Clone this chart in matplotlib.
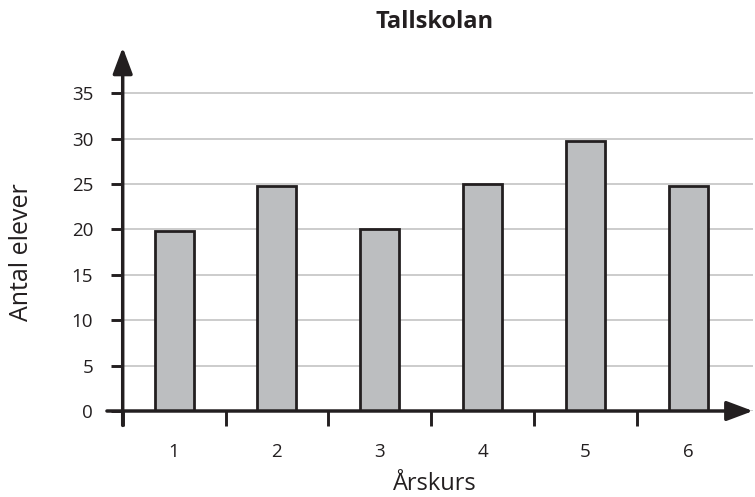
import matplotlib
matplotlib.use("Agg")
import matplotlib.pyplot as plt
import numpy as np

# Data
grades = ["1", "2", "3", "4", "5", "6"]
students = [19.8, 24.8, 20.0, 25.0, 29.7, 24.8]
y_ticks = [0, 5, 10, 15, 20, 25, 30, 35]
title = "Tallskolan"
x_label = "Årskurs"
y_label = "Antal elever"

DARK = "#231f20"
BAR = "#bcbec0"
GRID = "#bfbfbf"

plt.rcParams['font.family'] = ['Open Sans', 'DejaVu Sans']

fig = plt.figure(figsize=(7.55, 4.97), dpi=100)
left, bottom = 122.7 / 755, (497 - 411) / 497
width, height = (753 - 122.7) / 755, (411 - 51) / 497
ax = fig.add_axes([left, bottom, width, height])

x = np.arange(len(grades))
ax.bar(x, students, width=0.38, color=BAR, edgecolor=DARK, linewidth=2.0, zorder=3)

ax.set_xlim(-0.5, 5.63)
ax.set_ylim(0, 39.66)

for s in ax.spines.values():
    s.set_visible(False)

ax.set_yticks(y_ticks)
ax.set_yticklabels([str(v) for v in y_ticks])
ax.yaxis.grid(True, color=GRID, linewidth=1.1, zorder=0)
ax.set_axisbelow(True)

ax.set_xticks(np.arange(len(grades)) - 0.5)
ax.set_xticklabels([])
ax.set_xticks(x, minor=True)
ax.set_xticklabels(grades, minor=True)

ax.tick_params(axis='y', which='major', direction='out', length=8.6, width=2.1,
               color=DARK, labelcolor=DARK, labelsize=13.5, pad=12.7)
ax.tick_params(axis='x', which='major', direction='out', length=10.8, width=2.1,
               color=DARK)
ax.tick_params(axis='x', which='minor', length=0, labelcolor=DARK,
               labelsize=13.5, pad=22.8)

arrow_kw = dict(arrowstyle='-|>,head_length=0.8,head_width=0.3', lw=2.5,
                color=DARK, shrinkA=0, shrinkB=0, mutation_scale=20)
ax.annotate('', xy=(1, 0), xytext=(-0.025, 0), xycoords='axes fraction',
            textcoords='axes fraction', arrowprops=arrow_kw, annotation_clip=False, zorder=5)
ax.annotate('', xy=(0, 1.01), xytext=(0, -0.04), xycoords='axes fraction',
            textcoords='axes fraction', arrowprops=arrow_kw, annotation_clip=False, zorder=5)

cx = left + width / 2 - 0.004
fig.text(cx, 1 - 22 / 497, title, ha='center', va='center', fontsize=17,
         fontweight='bold', color=DARK)
fig.text(cx, (497 - 490) / 497, x_label, ha='center', va='baseline', fontsize=17,
         color=DARK)
fig.text(22 / 755, (497 - 252) / 497, y_label, ha='center', va='center',
         rotation=90, fontsize=18, color=DARK)

fig.savefig("out.png", dpi=100)
